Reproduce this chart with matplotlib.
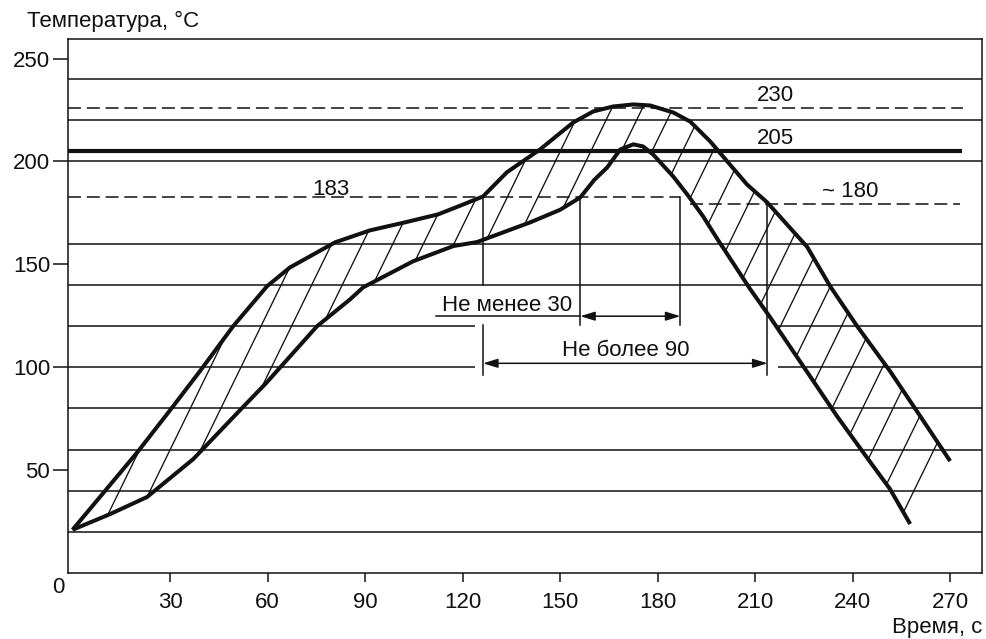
import matplotlib
matplotlib.use('Agg')
import matplotlib.pyplot as plt
from matplotlib.patches import Polygon
import numpy as np

plt.rcParams['font.family'] = ['Liberation Sans', 'DejaVu Sans']

# ---------------- data ----------------
# upper boundary of the profile band (time s, temperature °C)
upper_t = [0, 20.2, 30.0, 39.2, 49.4, 59.8, 66.9, 80.8, 91.5, 102.3, 112.5, 120.2,
           126.3, 133.6, 143.8, 154.0, 160.2, 166.3, 172.5, 177.7, 184.8, 190.0,
           196.2, 198.3, 207.5, 213.7, 226.0, 233.1, 241.4, 251.5, 260.8, 270.0]
upper_T = [21, 59.2, 79.1, 98.1, 119.9, 139.3, 148.5, 160.7, 166.5, 170.4, 174.3, 179.1,
           183.0, 194.7, 205.8, 218.9, 224.3, 226.7, 227.7, 227.2, 223.8, 219.4,
           209.7, 205.8, 188.8, 180.1, 158.5, 139.3, 119.9, 98.1, 76.2, 54.4]
# lower boundary of the profile band
lower_t = [0, 11.5, 22.9, 37.1, 51.5, 59.8, 75.2, 85.4, 89.4, 104.8, 117.2, 124.4,
           140.8, 150.0, 156.2, 160.5, 164.5, 168.5, 172.5, 175.5, 178.6, 184.8,
           189.1, 194.0, 198.3, 208.5, 214.6, 224.8, 235.2, 243.2, 251.5, 257.7]
lower_T = [21, 28.6, 36.9, 55.3, 79.1, 92.7, 119.9, 133.0, 138.8, 151.5, 158.9, 160.8,
           170.4, 176.5, 182.5, 191.0, 197.1, 205.8, 208.3, 207.3, 203.4, 192.7,
           184.0, 173.3, 162.5, 137.9, 124.3, 100.5, 76.2, 58.7, 40.8, 23.8]

x_ticks = [30, 60, 90, 120, 150, 180, 210, 240, 270]
y_ticks = [50, 100, 150, 200, 250]

grid_full = [20, 40, 60, 80, 140, 160, 200, 220, 240]
grid_gapped = [100, 120]
grid_gap = (123.8, 217.0)

level_230 = 226.0      # dashed line labelled 230
level_205 = 205.0      # thick line
level_183 = 182.5      # dashed line labelled 183
level_180 = 179.5      # dashed line labelled ~180

t_liquidus_up = 126.3   # upper curve crosses 183 on heating
t_lower_up = 156.2      # lower curve crosses 183 on heating
t_lower_down = 187.0    # lower curve crosses 183 on cooling
t_upper_down = 213.8    # upper curve crosses ~180 on cooling

# ---------------- figure ----------------
W, H = 987, 639
fig = plt.figure(figsize=(W / 100, H / 100), dpi=100)
ax = fig.add_axes([68 / W, 1 - 573 / H, (982 - 68) / W, (573 - 39) / H])
ax.set_xlim(-1.4, 279.8)
ax.set_ylim(0, 259.5)

K = '#111111'
FS = 16

# horizontal grid
for g in grid_full:
    ax.plot([-1.4, 279.8], [g, g], color=K, lw=1.1, solid_capstyle='butt', zorder=1)
for g in grid_gapped:
    ax.plot([-1.4, grid_gap[0]], [g, g], color=K, lw=1.1, solid_capstyle='butt', zorder=1)
    ax.plot([grid_gap[1], 279.8], [g, g], color=K, lw=1.1, solid_capstyle='butt', zorder=1)

dash = (0, (8.5, 3.8))
ax.plot([-1.4, 274], [level_230, level_230], color=K, lw=1.1, ls=dash, zorder=1)
ax.plot([-1.4, t_lower_down], [level_183, level_183], color=K, lw=1.1, ls=dash, zorder=1)
ax.plot([190, 273], [level_180, level_180], color=K, lw=1.1, ls=dash, zorder=1)
ax.plot([-1.4, 273.7], [level_205, level_205], color=K, lw=3.0, solid_capstyle='butt', zorder=3)

# hatched band between the curves
verts = list(zip(upper_t, upper_T)) + list(zip(lower_t[::-1], lower_T[::-1]))
poly = Polygon(verts, closed=True, facecolor='none', edgecolor='none', transform=ax.transData)
ax.add_patch(poly)
slope = 3.235      # hatch slope in data units (about 64° on screen)
step = 9.4         # hatch spacing along time axis
phase = 11.5
for k in range(-3, 32):
    t0 = phase + k * step
    ln, = ax.plot([t0, t0 + 260 / slope], [0, 260], color=K, lw=0.95, zorder=2)
    ln.set_clip_path(poly)

ax.plot(upper_t, upper_T, color=K, lw=2.9, solid_joinstyle='round', solid_capstyle='butt', zorder=4)
ax.plot(lower_t, lower_T, color=K, lw=2.9, solid_joinstyle='round', solid_capstyle='butt', zorder=4)

# vertical reference lines
vl = dict(color=K, lw=1.1, zorder=2)
ax.plot([t_liquidus_up] * 2, [level_183, 140], **vl)
ax.plot([t_liquidus_up] * 2, [120.4, 96.1], **vl)
ax.plot([t_lower_up] * 2, [level_183, 120.4], **vl)
ax.plot([t_lower_down] * 2, [level_183, 120.4], **vl)
ax.plot([t_upper_down] * 2, [level_180, 96.1], **vl)

# dimension arrows
ap = dict(arrowstyle='<|-|>,head_length=0.55,head_width=0.17', lw=1.1, color=K,
          shrinkA=0, shrinkB=0, mutation_scale=16)
ax.plot([111.8, t_lower_up], [124.8, 124.8], color=K, lw=1.1)
ax.annotate('', xy=(t_lower_down, 124.8), xytext=(t_lower_up, 124.8), arrowprops=ap)
ax.annotate('', xy=(t_upper_down, 101.9), xytext=(t_liquidus_up, 101.9), arrowprops=ap)

ax.text(133.7, 127.4, 'Не менее 30', fontsize=FS, ha='center', va='baseline', color=K)
ax.text(170.3, 105.6, 'Не более 90', fontsize=FS, ha='center', va='baseline', color=K)
ax.text(79.5, 183.6, '183', fontsize=FS, ha='center', va='baseline', color=K)
ax.text(216.2, 229.6, '230', fontsize=FS, ha='center', va='baseline', color=K)
ax.text(216.2, 208.6, '205', fontsize=FS, ha='center', va='baseline', color=K)
ax.text(239.2, 182.6, '~ 180', fontsize=FS, ha='center', va='baseline', color=K)

# axes styling
for s in ax.spines.values():
    s.set_linewidth(1.1)
    s.set_color(K)
ax.set_xticks(x_ticks)
ax.set_yticks(y_ticks)
ax.set_xticklabels([str(v) for v in x_ticks])
ax.set_yticklabels([str(v) for v in y_ticks])
ax.tick_params(axis='x', length=6.5, width=1.1, pad=7.0, labelsize=FS, colors=K)
ax.tick_params(axis='y', length=10.8, width=1.1, pad=2.0, labelsize=FS, colors=K)

fig.text(27 / W, 1 - 27.3 / H, 'Температура, °С', fontsize=FS, ha='left', va='baseline', color=K)
fig.text(982 / W, 1 - 633 / H, 'Время, с', fontsize=FS, ha='right', va='baseline', color=K)
fig.text(58 / W, 1 - 593 / H, '0', fontsize=FS, ha='center', va='baseline', color=K)

fig.savefig('out.png', dpi=100, facecolor='white')
